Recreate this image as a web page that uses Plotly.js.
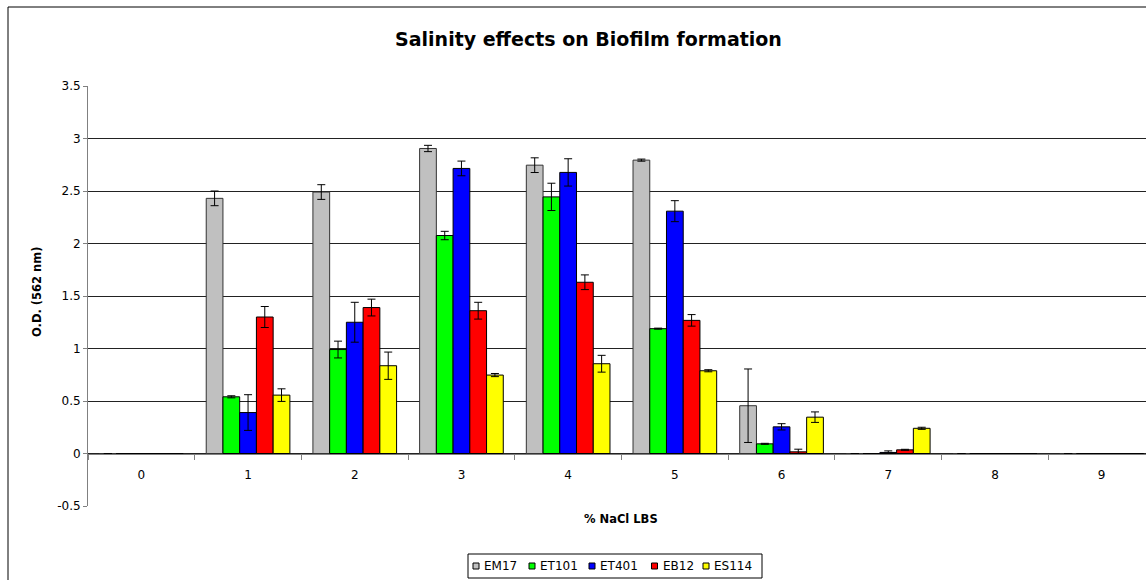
<!DOCTYPE html>
<html>
<head>
<meta charset="utf-8">
<script src="https://cdn.plot.ly/plotly-3.0.1.min.js"></script>
<style>
  html, body { margin: 0; padding: 0; background: #fff; overflow: hidden; }
  #chart { width: 1174px; height: 580px; }
</style>
</head>
<body>
<div id="chart"></div>
<script>
// Categories (% NaCl)
const categories = ['0', '1', '2', '3', '4', '5', '6', '7', '8', '9'];

// Series values (O.D. 562 nm) and error bars
const seriesNames = ['EM17', 'ET101', 'ET401', 'EB12', 'ES114'];
const em17     = [0, 2.43, 2.49, 2.905, 2.746, 2.794, 0.455, 0, 0, 0];
const em17Err  = [0, 0.07, 0.07, 0.03, 0.07, 0.01, 0.35, 0, 0, 0];
const et101    = [0, 0.54, 0.99, 2.076, 2.444, 1.189, 0.092, 0, 0, 0];
const et101Err = [0, 0.01, 0.08, 0.04, 0.13, 0.005, 0.005, 0, 0, 0];
const et401    = [0, 0.39, 1.25, 2.715, 2.677, 2.308, 0.254, 0.01, 0, 0];
const et401Err = [0, 0.17, 0.19, 0.07, 0.13, 0.1, 0.03, 0.015, 0, 0];
const eb12     = [0, 1.30, 1.39, 1.36, 1.631, 1.268, 0.016, 0.035, 0, 0];
const eb12Err  = [0, 0.1, 0.08, 0.08, 0.07, 0.055, 0.025, 0.005, 0, 0];
const es114    = [0, 0.556, 0.836, 0.747, 0.855, 0.788, 0.346, 0.24, 0, 0];
const es114Err = [0, 0.06, 0.13, 0.015, 0.08, 0.01, 0.05, 0.01, 0, 0];

const yTickVals = [-0.5, 0, 0.5, 1, 1.5, 2, 2.5, 3, 3.5];
const yTickText = ['-0.5', '0', '0.5', '1', '1.5', '2', '2.5', '3', '3.5'];

const values = [em17, et101, et401, eb12, es114];
const errors = [em17Err, et101Err, et401Err, eb12Err, es114Err];
const colors = ['#C0C0C0', '#00FF00', '#0000FF', '#FF0000', '#FFFF00'];
const outline = ['#333333', '#000000', '#000000', '#000000', '#000000'];

const FONT = 'DejaVu Sans, Verdana, sans-serif';

// plot-area geometry (pixels) used to convert layout positions to paper coords
const PL = 88, PW = 1067, PT = 86, PH = 420, PB = PT + PH;
const px = v => (v - PL) / PW;
const py = v => (PB - v) / PH;

const traces = seriesNames.map((name, i) => ({
  type: 'bar',
  name: name,
  x: categories,
  y: values[i],
  marker: { color: colors[i], line: { color: outline[i], width: 1 } },
  error_y: { type: 'data', array: errors[i], visible: true, color: '#000', thickness: 1, width: 4 },
  hoverinfo: 'x+y+name',
  showlegend: false
}));

// custom compact legend (Excel style)
const legendItemX = [473, 529, 589, 651.5, 703];
const legendY = 566;
const shapes = [
  {
    type: 'rect', xref: 'paper', yref: 'paper',
    x0: px(8), x1: px(1166), y0: py(583), y1: py(7),
    line: { color: '#000', width: 1 }, fillcolor: 'rgba(0,0,0,0)', layer: 'below'
  },
  {
    type: 'rect', xref: 'paper', yref: 'paper',
    x0: px(468), x1: px(762), y0: py(578), y1: py(554),
    line: { color: '#000', width: 1 }, fillcolor: '#fff', layer: 'above'
  }
];
const annotations = [
  {
    text: '<b>% NaCl LBS</b>',
    xref: 'paper', yref: 'paper',
    x: px(621), y: py(519),
    xanchor: 'center', yanchor: 'middle',
    showarrow: false,
    font: { family: FONT, size: 11.5, color: '#000' }
  },
  {
    text: '<b>O.D. (562 nm)</b>',
    xref: 'paper', yref: 'paper',
    x: px(37), y: py(292),
    xanchor: 'center', yanchor: 'middle',
    textangle: -90,
    showarrow: false,
    font: { family: FONT, size: 11.5, color: '#000' }
  }
];
seriesNames.forEach((name, i) => {
  const x0 = legendItemX[i];
  shapes.push({
    type: 'rect', xref: 'paper', yref: 'paper',
    x0: px(x0), x1: px(x0 + 6), y0: py(legendY + 3), y1: py(legendY - 3),
    line: { color: '#000', width: 1 }, fillcolor: colors[i], layer: 'above'
  });
  annotations.push({
    text: name,
    xref: 'paper', yref: 'paper',
    x: px(x0 + 9), y: py(legendY),
    xanchor: 'left', yanchor: 'middle',
    showarrow: false,
    font: { family: FONT, size: 12, color: '#000' }
  });
});

const layout = {
  width: 1174,
  height: 580,
  paper_bgcolor: '#fff',
  plot_bgcolor: '#fff',
  margin: { l: PL, r: 1174 - PL - PW, t: PT, b: 580 - PB, autoexpand: false },
  font: { family: FONT, size: 12, color: '#000' },
  barmode: 'group',
  bargap: 0.216,
  bargroupgap: 0,
  showlegend: false,
  title: {
    text: '<b>Salinity effects on Biofilm formation</b>',
    font: { family: FONT, size: 19, color: '#000' },
    x: 588.5 / 1174, xref: 'container', xanchor: 'center',
    y: 1 - 39 / 580, yref: 'container', yanchor: 'middle'
  },
  xaxis: {
    type: 'category',
    anchor: 'free',
    position: 0.125,
    showline: true,
    linecolor: '#808080',
    linewidth: 1,
    ticks: 'outside',
    tickson: 'boundaries',
    ticklen: 5,
    tickcolor: '#808080',
    ticklabelstandoff: 10,
    showgrid: false,
    zeroline: false,
    tickfont: { family: FONT, size: 12, color: '#000' },
    range: [-0.5, 9.5]
  },
  yaxis: {
    range: [-0.5, 3.5],
    tickvals: yTickVals,
    ticktext: yTickText,
    showgrid: true,
    gridcolor: '#222',
    gridwidth: 1,
    zeroline: false,
    showline: true,
    linecolor: '#808080',
    linewidth: 1,
    ticks: 'outside',
    ticklen: 4,
    tickcolor: '#808080',
    tickfont: { family: FONT, size: 12, color: '#000' }
  },
  annotations: annotations,
  shapes: shapes
};

Plotly.newPlot('chart', traces, layout, { displayModeBar: false, staticPlot: true });
</script>
</body>
</html>
